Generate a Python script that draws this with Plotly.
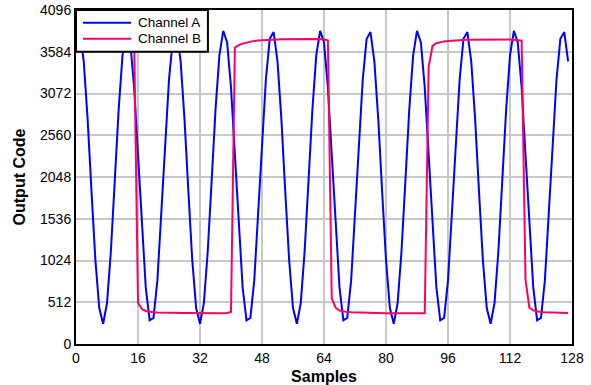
import plotly.graph_objects as go

# ---------------- data ----------------
samples = list(range(128))

channel_a = [
    3744, 3825, 3466, 2757, 1872, 1031, 441, 249, 502, 1137,
    1998, 2871, 3540, 3841, 3698, 3146, 2323, 1432, 694, 290,
    321, 780, 1552, 2447, 3243, 3744, 3825, 3466, 2757, 1872,
    1031, 441, 249, 502, 1137, 1998, 2871, 3540, 3841, 3698,
    3146, 2323, 1432, 694, 290, 321, 780, 1552, 2447, 3243,
    3744, 3825, 3466, 2757, 1872, 1031, 441, 249, 502, 1137,
    1998, 2871, 3540, 3841, 3698, 3146, 2323, 1432, 694, 290,
    321, 780, 1552, 2447, 3243, 3744, 3825, 3466, 2757, 1872,
    1031, 441, 249, 502, 1137, 1998, 2871, 3540, 3841, 3698,
    3146, 2323, 1432, 694, 290, 321, 780, 1552, 2447, 3243,
    3744, 3825, 3466, 2757, 1872, 1031, 441, 249, 502, 1137,
    1998, 2871, 3540, 3841, 3698, 3146, 2323, 1432, 694, 290,
    321, 780, 1552, 2447, 3243, 3744, 3825, 3466,
]

channel_b = [
    3728, 3730, 3732, 3733, 3734, 3735, 3736, 3736, 3737, 3737,
    3738, 3738, 3738, 3739, 3739, 3739, 505, 428, 405, 395,
    390, 387, 385, 384, 383, 382, 381, 381, 380, 380,
    379, 379, 378, 378, 378, 377, 377, 377, 377, 381,
    392, 3635, 3665, 3684, 3698, 3709, 3717, 3723, 3727, 3730,
    3732, 3734, 3735, 3736, 3737, 3738, 3738, 3739, 3739, 3739,
    3740, 3740, 3740, 3740, 3738, 3722, 560, 445, 410, 397,
    391, 388, 386, 384, 383, 382, 381, 380, 379, 379,
    378, 378, 377, 377, 376, 376, 376, 375, 375, 375,
    378, 3400, 3655, 3688, 3702, 3711, 3717, 3722, 3725, 3727,
    3729, 3730, 3731, 3732, 3732, 3733, 3733, 3733, 3734, 3734,
    3734, 3734, 3733, 3732, 3728, 3720, 790, 445, 412, 400,
    393, 389, 386, 384, 382, 381, 380, 379,
]

series_names = ["Channel A", "Channel B"]
series_colors = ["#0000FF", "#FF0060"]

x_ticks = [0, 16, 32, 48, 64, 80, 96, 112, 128]
y_ticks = [0, 512, 1024, 1536, 2048, 2560, 3072, 3584, 4096]

FONT = "Arial, 'Liberation Sans', sans-serif"

# ---------------- figure ----------------
fig = go.Figure()
for name, ys, col in zip(series_names, [channel_a, channel_b], series_colors):
    fig.add_trace(go.Scatter(
        x=samples, y=ys, mode="lines", name=name,
        line=dict(color=col, width=2), showlegend=False,
    ))

# legend key drawn as a framed box in the top-left corner of the plot area
legend_shapes = [
    dict(type="rect", xref="paper", yref="paper", x0=0, x1=0.266, y0=0.875, y1=1,
         fillcolor="white", line=dict(color="black", width=2), layer="above"),
]
legend_rows_y = [0.962, 0.914]
legend_annots = []
for name, col, yy in zip(series_names, series_colors, legend_rows_y):
    legend_shapes.append(dict(type="line", xref="paper", yref="paper",
                              x0=0.014, x1=0.111, y0=yy, y1=yy,
                              line=dict(color=col, width=2), layer="above"))
    legend_annots.append(dict(xref="paper", yref="paper", x=0.122, y=yy,
                              text=name, showarrow=False, xanchor="left",
                              yanchor="middle", borderpad=0,
                              font=dict(size=13.5, family=FONT, color="black")))

fig.update_layout(
    template="none",
    width=591, height=385,
    margin=dict(l=76, r=19, t=10, b=41, pad=0),
    paper_bgcolor="white", plot_bgcolor="white",
    font=dict(family=FONT, size=14, color="black"),
    showlegend=False,
    shapes=legend_shapes,
    annotations=legend_annots,
)
fig.update_xaxes(
    range=[0, 128], tickvals=x_ticks, ticktext=[str(v) for v in x_ticks],
    tickfont=dict(size=14),
    showgrid=True, gridcolor="#C8C8C8", gridwidth=1.5,
    showline=True, linecolor="black", linewidth=2, mirror=True,
    ticks="", zeroline=False, automargin=False,
    title=dict(text="<b>Samples</b>", font=dict(size=16)),
)
fig.update_yaxes(
    range=[0, 4096], tickvals=y_ticks, ticktext=[str(v) for v in y_ticks],
    tickfont=dict(size=14),
    showgrid=True, gridcolor="#C8C8C8", gridwidth=1.5,
    showline=True, linecolor="black", linewidth=2, mirror=True,
    ticks="", zeroline=False, automargin="left",
    title=dict(text="<b>Output Code</b>", font=dict(size=16), standoff=10),
)

fig.write_html("out.html", config={"displayModeBar": False},
               post_script="document.body.style.margin='0';")
